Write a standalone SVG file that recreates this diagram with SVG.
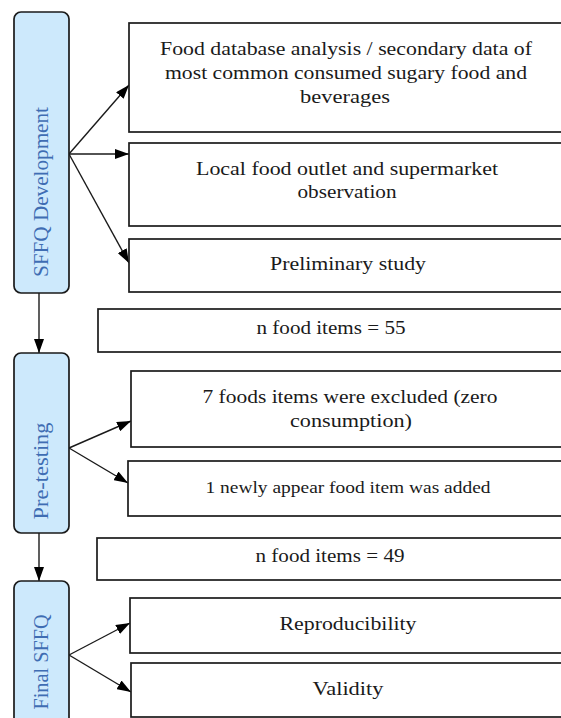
<svg xmlns="http://www.w3.org/2000/svg" width="561" height="718" viewBox="0 0 561 718">
<defs>
<marker id="ah" viewBox="0 0 14 10" refX="14" refY="5" markerWidth="14" markerHeight="10" markerUnits="userSpaceOnUse" orient="auto">
<path d="M0,0 L14,5 L0,10 Z" fill="#000"/>
</marker>
<style>
.stage{fill:#cde9fc;stroke:#1a1a1a;stroke-width:1.7}
.stxt{font-family:"Liberation Serif",serif;font-size:20px;fill:#3f6db3;text-anchor:middle}
.box{fill:#fff;stroke:#1a1a1a;stroke-width:1.7}
.t{font-family:"Liberation Serif",serif;font-size:19px;fill:#1a1a1a;text-anchor:middle}
.ts{font-family:"Liberation Serif",serif;font-size:17.5px;fill:#1a1a1a;text-anchor:middle}
.c{stroke:#1a1a1a;stroke-width:1.4;fill:none;marker-end:url(#ah)}
</style>
</defs>
<rect width="561" height="718" fill="#fff"/>
<g id="connectors">
<line class="c" x1="69" y1="154" x2="129" y2="85"/>
<line class="c" x1="69" y1="154" x2="129" y2="154"/>
<line class="c" x1="69" y1="154" x2="129" y2="263"/>
<line class="c" x1="39" y1="293" x2="39" y2="353"/>
<line class="c" x1="69" y1="448" x2="131" y2="421"/>
<line class="c" x1="69" y1="448" x2="128" y2="483"/>
<line class="c" x1="39" y1="533" x2="39" y2="581"/>
<line class="c" x1="69" y1="655" x2="130" y2="623"/>
<line class="c" x1="69" y1="655" x2="131" y2="692"/>
</g>
<g id="stage-development">
<rect class="stage" x="14" y="12" width="55" height="281" rx="7"/>
<text class="stxt" transform="translate(48,192) rotate(-90)" textLength="170" lengthAdjust="spacingAndGlyphs">SFFQ Development</text>
</g>
<g id="stage-pretesting">
<rect class="stage" x="14" y="353" width="55" height="180" rx="7"/>
<text class="stxt" transform="translate(48,471) rotate(-90)" textLength="97" lengthAdjust="spacingAndGlyphs">Pre-testing</text>
</g>
<g id="stage-final">
<rect class="stage" x="14" y="581" width="55" height="160" rx="7"/>
<text class="stxt" transform="translate(48,662) rotate(-90)" textLength="95" lengthAdjust="spacingAndGlyphs">Final SFFQ</text>
</g>
<g id="box-database">
<rect class="box" x="129" y="23" width="440" height="109"/>
<text class="t" x="346" y="55" textLength="372" lengthAdjust="spacingAndGlyphs">Food database analysis / secondary data of</text>
<text class="t" x="346" y="79" textLength="362" lengthAdjust="spacingAndGlyphs">most common consumed sugary food and</text>
<text class="t" x="345" y="103" textLength="90" lengthAdjust="spacingAndGlyphs">beverages</text>
</g>
<g id="box-outlet">
<rect class="box" x="129" y="143" width="440" height="83"/>
<text class="t" x="347" y="175" textLength="302" lengthAdjust="spacingAndGlyphs">Local food outlet and supermarket</text>
<text class="t" x="347" y="198" textLength="99" lengthAdjust="spacingAndGlyphs">observation</text>
</g>
<g id="box-preliminary">
<rect class="box" x="129" y="239" width="440" height="53"/>
<text class="t" x="348" y="270" textLength="156" lengthAdjust="spacingAndGlyphs">Preliminary study</text>
</g>
<g id="box-n55">
<rect class="box" x="98" y="309" width="470" height="43"/>
<text class="t" x="331" y="334" textLength="149" lengthAdjust="spacingAndGlyphs">n food items = 55</text>
</g>
<g id="box-excluded">
<rect class="box" x="131" y="371" width="440" height="76"/>
<text class="t" x="350" y="403" textLength="295" lengthAdjust="spacingAndGlyphs">7 foods items were excluded (zero</text>
<text class="t" x="351" y="427" textLength="122" lengthAdjust="spacingAndGlyphs">consumption)</text>
</g>
<g id="box-added">
<rect class="box" x="128" y="461" width="440" height="55"/>
<text class="ts" x="348" y="493" textLength="285" lengthAdjust="spacingAndGlyphs">1 newly appear food item was added</text>
</g>
<g id="box-n49">
<rect class="box" x="97" y="538" width="470" height="42"/>
<text class="t" x="330" y="562" textLength="149" lengthAdjust="spacingAndGlyphs">n food items = 49</text>
</g>
<g id="box-reproducibility">
<rect class="box" x="130" y="598" width="440" height="55"/>
<text class="t" x="348" y="630" textLength="137" lengthAdjust="spacingAndGlyphs">Reproducibility</text>
</g>
<g id="box-validity">
<rect class="box" x="131" y="663" width="440" height="54"/>
<text class="t" x="348" y="695" textLength="71" lengthAdjust="spacingAndGlyphs">Validity</text>
</g>
</svg>
